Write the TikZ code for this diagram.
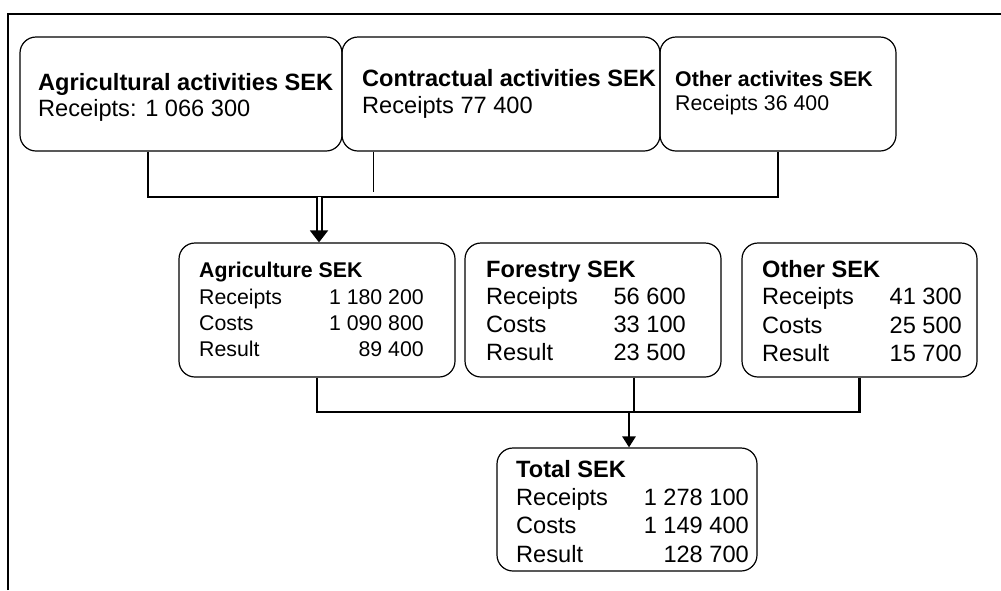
\documentclass[tikz,border=0pt]{standalone}
\usepackage{fontspec}
\setmainfont{Liberation Sans}
\usetikzlibrary{arrows.meta}
\begin{document}
\begin{tikzpicture}[x=1pt,y=-1pt,
  box/.style={draw=black, line width=1.2pt, rounded corners=16pt, inner sep=0pt},
  tl/.style={anchor=base west, inner sep=0pt},
  tr/.style={anchor=base east, inner sep=0pt},
  conn/.style={line width=2.6pt},
  thinconn/.style={line width=1pt},
  big/.style={font=\fontsize{23.6pt}{27pt}\selectfont},
  small/.style={font=\fontsize{21.3pt}{25pt}\selectfont},
]
\useasboundingbox (0,0) rectangle (1001,590);
\draw[line width=2pt] (8,590) -- (8,14) -- (1001,14);

% top boxes
\node[box, minimum width=322pt, minimum height=114pt] (a1) at (181,94) {};
\node[box, minimum width=318pt, minimum height=114pt] (a2) at (501,94) {};
\node[box, minimum width=236pt, minimum height=114pt] (a3) at (778,94) {};
\node[tl,big] (a1h) at (38,90) {\bfseries Agricultural activities SEK};
\node[tl,big] (a1r) at (38,116) {Receipts: 1 066 300};
\node[tl,big] (a2h) at (362,86) {\bfseries Contractual activities SEK};
\node[tl,big] (a2r) at (362,113) {Receipts 77 400};
\node[tl,small] (a3h) at (675,86) {\bfseries Other activites SEK};
\node[tl,small] (a3r) at (675,110) {Receipts 36 400};

% middle boxes
\node[box, minimum width=276pt, minimum height=134pt] (agr) at (317,310) {};
\node[box, minimum width=256pt, minimum height=134pt] (for) at (593,310) {};
\node[box, minimum width=235pt, minimum height=134pt] (oth) at (859.5,310) {};

\node[tl,small] (agrh) at (199,277) {\bfseries Agriculture SEK};
\node[tl,small] (agrl1) at (199,304) {Receipts};
\node[tl,small] (agrl2) at (199,330) {Costs};
\node[tl,small] (agrl3) at (199,356) {Result};
\node[tr,small] (agrv1) at (424,304) {1 180 200};
\node[tr,small] (agrv2) at (424,330) {1 090 800};
\node[tr,small] (agrv3) at (424,356) {89 400};

\node[tl,big] (forh) at (486,277) {\bfseries Forestry SEK};
\node[tl,big] (forl1) at (486,304) {Receipts};
\node[tl,big] (forl2) at (486,332) {Costs};
\node[tl,big] (forl3) at (486,360) {Result};
\node[tr,big] (forv1) at (686,304) {56 600};
\node[tr,big] (forv2) at (686,332) {33 100};
\node[tr,big] (forv3) at (686,360) {23 500};

\node[tl,big] (othh) at (762,277) {\bfseries Other SEK};
\node[tl,big] (othl1) at (762,304) {Receipts};
\node[tl,big] (othl2) at (762,333) {Costs};
\node[tl,big] (othl3) at (762,361) {Result};
\node[tr,big] (othv1) at (962,304) {41 300};
\node[tr,big] (othv2) at (962,333) {25 500};
\node[tr,big] (othv3) at (962,361) {15 700};

% total box
\node[box, minimum width=260pt, minimum height=123pt] (tot) at (627,509.5) {};
\node[tl,big] (toth) at (516,477) {\bfseries Total SEK};
\node[tl,big] (totl1) at (516,505) {Receipts};
\node[tl,big] (totl2) at (516,533) {Costs};
\node[tl,big] (totl3) at (516,562) {Result};
\node[tr,big] (totv1) at (749,505) {1 278 100};
\node[tr,big] (totv2) at (749,533) {1 149 400};
\node[tr,big] (totv3) at (749,562) {128 700};

% top connectors
\coordinate (j1) at (148,197);
\coordinate (j3) at (778,197);
\coordinate (j2) at (373,192);
\coordinate (d1) at (319,197);
\draw[conn] (a1.south -| j1) -- (j1) -- (j3) -- (a3.south -| j3);
\draw[thinconn] (a2.south -| j2) -- (j2);
\draw[line width=2pt, double=white, double distance=3pt, -{Triangle[width=18pt,length=12pt]}] (d1) -- (agr.north -| d1);

% bottom connectors
\coordinate (k1) at (317,412);
\coordinate (k3) at (859.5,412);
\coordinate (k2) at (634,412);
\coordinate (k4) at (629,412);
\draw[conn] (agr.south) -- (k1) -- (k3) -- (oth.south);
\draw[line width=2.2pt] (for.south -| k2) -- (k2);
\draw[conn, -{Triangle[width=13pt,length=11pt]}] (k4) -- (tot.north -| k4);
\end{tikzpicture}
\end{document}
